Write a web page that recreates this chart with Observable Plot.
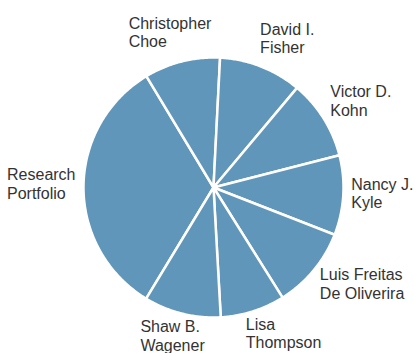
<!DOCTYPE html>
<html>
<head>
<meta charset="utf-8">
<script src="https://cdn.jsdelivr.net/npm/d3@7"></script>
<script src="https://cdn.jsdelivr.net/npm/@observablehq/plot@0.6"></script>
<style>
  html, body { margin: 0; padding: 0; background: #fff; }
  #chart { width: 414px; height: 353px; }
</style>
</head>
<body>
<div id="chart"></div>
<script>
// Slices in clockwise order, starting with the large slice on the left
const names = ["Research Portfolio", "Christopher Choe", "David I. Fisher", "Victor D. Kohn",
               "Nancy J. Kyle", "Luis Freitas De Oliverira", "Lisa Thompson", "Shaw B. Wagener"];
const labelLines = ["Research\nPortfolio", "Christopher\nChoe", "David I.\nFisher", "Victor D.\nKohn",
                    "Nancy J.\nKyle", "Luis Freitas\nDe Oliverira", "Lisa\nThompson", "Shaw B.\nWagener"];
const values = [117.7, 34.0, 37.1, 35.6, 35.7, 36.6, 28.9, 34.4];

const W = 414, H = 353;
const cx = 213, cy = 187, R = 130, labelR = 138;
const fontSize = 16, lineH = fontSize * 1.15;
const startDeg = 211.2;

const table = names.map((n, i) => ({name: n, label: labelLines[i], value: values[i]}));
const arcs = d3.pie().sort(null).value(d => d.value)
  .startAngle(startDeg * Math.PI / 180)
  .endAngle((startDeg + 360) * Math.PI / 180)(table);

// polygon points for each slice
const pts = [];
arcs.forEach((a, i) => {
  pts.push({k: i, x: 0, y: 0});
  const n = Math.max(8, Math.ceil((a.endAngle - a.startAngle) / 0.01));
  for (let j = 0; j <= n; j++) {
    const t = a.startAngle + (a.endAngle - a.startAngle) * j / n;
    pts.push({k: i, x: R * Math.sin(t), y: -R * Math.cos(t)});
  }
  pts.push({k: i, x: 0, y: 0});
});

// label placement: anchor point just outside the pie, text box aligned away from it
const ctx = document.createElement("canvas").getContext("2d");
ctx.font = `${fontSize}px "Liberation Sans", Arial, sans-serif`;
const clamp = (v, lo, hi) => Math.max(lo, Math.min(hi, v));
const labels = arcs.map(a => {
  const m = (a.startAngle + a.endAngle) / 2;
  const s = Math.sin(m), c = Math.cos(m);
  const lines = a.data.label.split("\n");
  const w = d3.max(lines, l => ctx.measureText(l).width);
  const h = lines.length * lineH;
  const px = labelR * s, py = -labelR * c;
  const f = clamp(1.8 * s + 0.2, -1, 1);
  const g = c + 0.2;
  const centerX = px + f * w / 2, centerY = py - g * h / 2;
  return {text: a.data.label, x: centerX - w / 2, y: centerY};
});

const chart = Plot.plot({
  width: W, height: H,
  marginTop: 0, marginRight: 0, marginBottom: 0, marginLeft: 0,
  x: {domain: [-cx, W - cx], range: [0, W], axis: null},
  y: {domain: [-cy, H - cy], range: [0, H], axis: null},
  style: {fontFamily: '"Liberation Sans", Arial, sans-serif', background: "#fff"},
  marks: [
    Plot.line(pts, {x: "x", y: "y", z: "k", fill: "#6096b9", stroke: "#fff", strokeWidth: 2.5,
                    strokeLinejoin: "round", curve: "linear"}),
    Plot.text(labels, {x: "x", y: "y", text: "text", textAnchor: "start", lineAnchor: "middle",
                       lineHeight: 1.15, fontSize: fontSize, fill: "#333"})
  ]
});
document.getElementById("chart").appendChild(chart);
</script>
</body>
</html>
